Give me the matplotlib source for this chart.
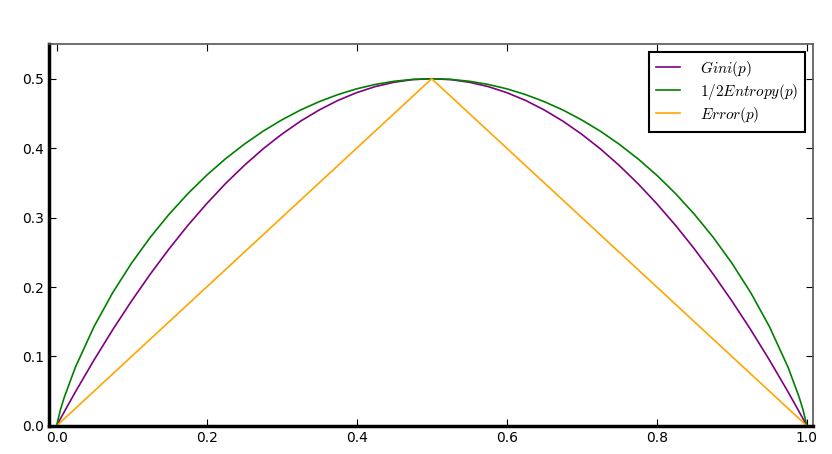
import matplotlib
matplotlib.use("Agg")
import matplotlib.pyplot as plt

plt.rcParams['mathtext.fontset'] = 'cm'

# valores
p = [0.0, 0.005, 0.01, 0.025, 0.05, 0.075, 0.1, 0.125, 0.15, 0.175, 0.2, 0.225, 0.25, 0.275,
     0.3, 0.325, 0.35, 0.375, 0.4, 0.425, 0.45, 0.475, 0.5,
     0.525, 0.55, 0.575, 0.6, 0.625, 0.65, 0.675, 0.7, 0.725, 0.75, 0.775, 0.8, 0.825,
     0.85, 0.875, 0.9, 0.925, 0.95, 0.975, 0.99, 0.995, 1.0]
gini = [0.0, 0.0100, 0.0198, 0.0488, 0.095, 0.1388, 0.18, 0.2188, 0.255, 0.2888, 0.32, 0.3488, 0.375, 0.3988,
        0.42, 0.4388, 0.455, 0.4688, 0.48, 0.4888, 0.495, 0.4988, 0.5,
        0.4988, 0.495, 0.4888, 0.48, 0.4688, 0.455, 0.4388, 0.42, 0.3988, 0.375, 0.3488, 0.32, 0.2888,
        0.255, 0.2188, 0.18, 0.1388, 0.095, 0.0488, 0.0198, 0.0100, 0.0]
half_entropy = [0.0, 0.0227, 0.0404, 0.0843, 0.1432, 0.1922, 0.2345, 0.2718, 0.3049, 0.3345, 0.3610, 0.3846, 0.4056, 0.4243,
                0.4406, 0.4549, 0.4670, 0.4772, 0.4855, 0.4919, 0.4964, 0.4991, 0.5,
                0.4991, 0.4964, 0.4919, 0.4855, 0.4772, 0.4670, 0.4549, 0.4406, 0.4243, 0.4056, 0.3846, 0.3610, 0.3345,
                0.3049, 0.2718, 0.2345, 0.1922, 0.1432, 0.0843, 0.0404, 0.0227, 0.0]
error = [0.0, 0.005, 0.01, 0.025, 0.05, 0.075, 0.1, 0.125, 0.15, 0.175, 0.2, 0.225, 0.25, 0.275,
         0.3, 0.325, 0.35, 0.375, 0.4, 0.425, 0.45, 0.475, 0.5,
         0.475, 0.45, 0.425, 0.4, 0.375, 0.35, 0.325, 0.3, 0.275, 0.25, 0.225, 0.2, 0.175,
         0.15, 0.125, 0.1, 0.075, 0.05, 0.025, 0.01, 0.005, 0.0]

fig = plt.figure(figsize=(8.32, 4.54), dpi=100)
ax = fig.add_axes([0.059, 0.062, 0.918, 0.841])

ax.plot(p, gini, color='purple', lw=1.2, label=r'$Gini(p)$')
ax.plot(p, half_entropy, color='green', lw=1.2, label=r'$1/2Entropy(p)$')
ax.plot(p, error, color='orange', lw=1.2, label=r'$Error(p)$')

ax.set_xlim(-0.01, 1.008)
ax.set_ylim(0, 0.55)
ax.set_xticks([0.0, 0.2, 0.4, 0.6, 0.8, 1.0])
ax.set_yticks([0.0, 0.1, 0.2, 0.3, 0.4, 0.5])
ax.tick_params(direction='in', top=True, right=True, length=5, labelsize=10)

for side in ['left', 'bottom']:
    ax.spines[side].set_linewidth(2.5)
    ax.spines[side].set_color('black')
for side in ['top', 'right']:
    ax.spines[side].set_linewidth(1.2)
    ax.spines[side].set_color('#555555')

leg = ax.legend(loc='upper right', fontsize=11, fancybox=False, framealpha=1,
                borderaxespad=0.5, borderpad=0.45, handlelength=1.6, handletextpad=1.3,
                labelspacing=0.2)
leg.get_frame().set_edgecolor('black')
leg.get_frame().set_linewidth(1.5)

fig.savefig("out.png", dpi=100)
